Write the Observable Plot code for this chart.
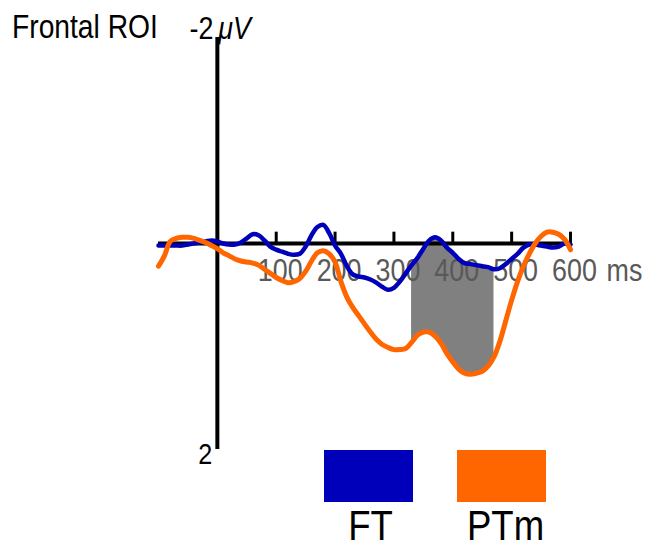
<!DOCTYPE html>
<html>
<head>
<meta charset="utf-8">
<script src="https://cdn.jsdelivr.net/npm/d3@7"></script>
<script src="https://cdn.jsdelivr.net/npm/@observablehq/plot@0.6"></script>
<style>
  html, body { margin: 0; padding: 0; background: #fff; }
  #wrap { position: relative; width: 651px; height: 545px; overflow: hidden; font-family: "Liberation Sans", Arial, sans-serif; }
  #wrap svg { position: absolute; left: 0; top: 0; }
  .title { position: absolute; left: 12px; top: 10px; font-size: 33px; line-height: 33px; color: #000; white-space: nowrap; transform: scaleX(0.855); transform-origin: 0 0; }
  .sw { position: absolute; }
  .lab { position: absolute; font-size: 42px; line-height: 34px; color: #000; text-align: center; white-space: nowrap; transform: scaleX(0.87); }
</style>
</head>
<body>
<div id="wrap"></div>
<script>
// ---- data ----
const times = [-100,-90,-80,-70,-60,-50,-40,-30,-20,-10,0,10,20,30,40,50,60,70,80,90,100,110,120,130,140,150,160,170,180,190,200,210,220,230,240,250,260,270,280,290,300,310,320,330,340,350,360,370,380,390,400,410,420,430,440,450,460,470,480,490,500,510,520,530,540,550,560,570,580,590,600];
const ftValues = [0.02,0.02,0.02,0.02,0.02,0.01,0.0,-0.01,-0.02,-0.03,-0.02,0.0,0.01,0.01,-0.01,-0.05,-0.09,-0.08,-0.03,0.03,0.06,0.08,0.10,0.11,0.10,0.03,-0.08,-0.16,-0.18,-0.10,0.02,0.10,0.22,0.30,0.32,0.33,0.35,0.38,0.42,0.45,0.43,0.37,0.29,0.21,0.14,0.05,-0.03,-0.06,-0.03,0.04,0.09,0.15,0.19,0.20,0.21,0.22,0.23,0.25,0.24,0.20,0.15,0.10,0.04,0.01,0.01,0.02,0.03,0.04,0.03,0.0,0.01];
const ptmValues = [0.22,0.12,-0.02,-0.05,-0.06,-0.06,-0.05,-0.03,-0.01,0.02,0.05,0.09,0.12,0.15,0.17,0.18,0.19,0.21,0.25,0.29,0.33,0.36,0.38,0.37,0.34,0.27,0.17,0.09,0.07,0.10,0.18,0.37,0.52,0.62,0.70,0.78,0.86,0.93,0.98,1.01,1.03,1.03,1.02,0.96,0.89,0.86,0.86,0.90,0.97,1.07,1.15,1.22,1.26,1.27,1.26,1.24,1.19,1.10,0.95,0.75,0.55,0.37,0.22,0.10,0.0,-0.07,-0.11,-0.11,-0.09,-0.04,0.06];
const seriesNames = ["FT", "PTm"];
const seriesColors = ["#0000BB", "#FF6600"];
const shadeWindow = [330, 470];
const xTicks = [100, 200, 300, 400, 500, 600];
const xTickLabels = ["100", "200", "300", "400", "500", "600"];
const xUnit = "ms";
const yTicks = [-2, 2];
const yTickLabels = ["-2", "2"];
const yUnit = "\u03BCV";
const title = "Frontal ROI";

// ---- table ----
const rows = times.map((t, i) => ({t, ft: ftValues[i], ptm: ptmValues[i]}));
const shadeRows = rows.filter(d => d.t >= shadeWindow[0] && d.t <= shadeWindow[1]);
const tickRows = xTicks.map((x, i) => ({x, label: xTickLabels[i]}));
const font = "Liberation Sans, Arial, sans-serif";

const chart = Plot.plot({
  width: 651, height: 545,
  marginLeft: 158, marginRight: 81, marginTop: 37, marginBottom: 96,
  style: {fontFamily: font, background: "transparent"},
  x: {domain: [-100, 600], axis: null},
  y: {domain: [-2, 2], reverse: true, axis: null},
  marks: [
    Plot.areaY(shadeRows, {x: "t", y1: "ft", y2: "ptm", fill: "#808080", curve: "catmull-rom"}),
    Plot.ruleY([0], {x1: -100, x2: 600, stroke: "#000", strokeWidth: 4}),
    Plot.ruleX([0], {y1: -2, y2: 2, stroke: "#000", strokeWidth: 4}),
    Plot.ruleX(tickRows, {x: "x", y1: 0, y2: -0.11, stroke: "#000", strokeWidth: 3}),
    Plot.text(tickRows, {x: "x", y: 0, text: "label", textAnchor: "middle", lineAnchor: "bottom", dy: 37, dx: 4, fontSize: 32, fill: "#595959"}),
    Plot.text([xTicks[xTicks.length - 1]], {x: d => d, y: 0, text: () => xUnit, textAnchor: "start", lineAnchor: "bottom", dy: 37, dx: 36, fontSize: 32, fill: "#595959"}),
    Plot.text([yTicks[0]], {x: 0, y: d => d, text: () => yTickLabels[0], textAnchor: "end", lineAnchor: "bottom", dx: -4, dy: 1, fontSize: 32, fill: "#000"}),
    Plot.text([yTicks[0]], {x: 0, y: d => d, text: () => yUnit, textAnchor: "start", lineAnchor: "bottom", dx: 1, dy: 1, fontSize: 32, fontStyle: "italic", fill: "#000"}),
    Plot.text([yTicks[1]], {x: 0, y: d => d, text: () => yTickLabels[1], textAnchor: "end", lineAnchor: "bottom", dx: -5, dy: 14, fontSize: 30, fill: "#000"}),
    Plot.line(rows, {x: "t", y: "ft", stroke: seriesColors[0], strokeWidth: 4.5, curve: "catmull-rom"}),
    Plot.line(rows, {x: "t", y: "ptm", stroke: seriesColors[1], strokeWidth: 5, curve: "catmull-rom"})
  ]
});

// narrow the glyphs horizontally (the original uses a condensed face)
chart.querySelectorAll("text").forEach(el => {
  const tr = el.getAttribute("transform") || "";
  const x = +(el.getAttribute("x") || 0), y = +(el.getAttribute("y") || 0);
  el.removeAttribute("x"); el.removeAttribute("y");
  el.setAttribute("transform", `${tr} translate(${x},${y}) scale(0.84,1)`);
});

const wrap = document.getElementById("wrap");
wrap.appendChild(chart);

const t = document.createElement("div");
t.className = "title";
t.textContent = title;
wrap.appendChild(t);

// legend
const swLeft = [324, 457];
seriesNames.forEach((name, i) => {
  const s = document.createElement("div");
  s.className = "sw";
  s.style.left = swLeft[i] + "px";
  s.style.top = "450px";
  s.style.width = "89px";
  s.style.height = "52px";
  s.style.background = seriesColors[i];
  wrap.appendChild(s);
  const l = document.createElement("div");
  l.className = "lab";
  l.style.left = (swLeft[i] - 20 + (i === 1 ? 4 : 2)) + "px";
  l.style.width = "129px";
  l.style.top = "509px";
  l.textContent = name;
  wrap.appendChild(l);
});
</script>
</body>
</html>
